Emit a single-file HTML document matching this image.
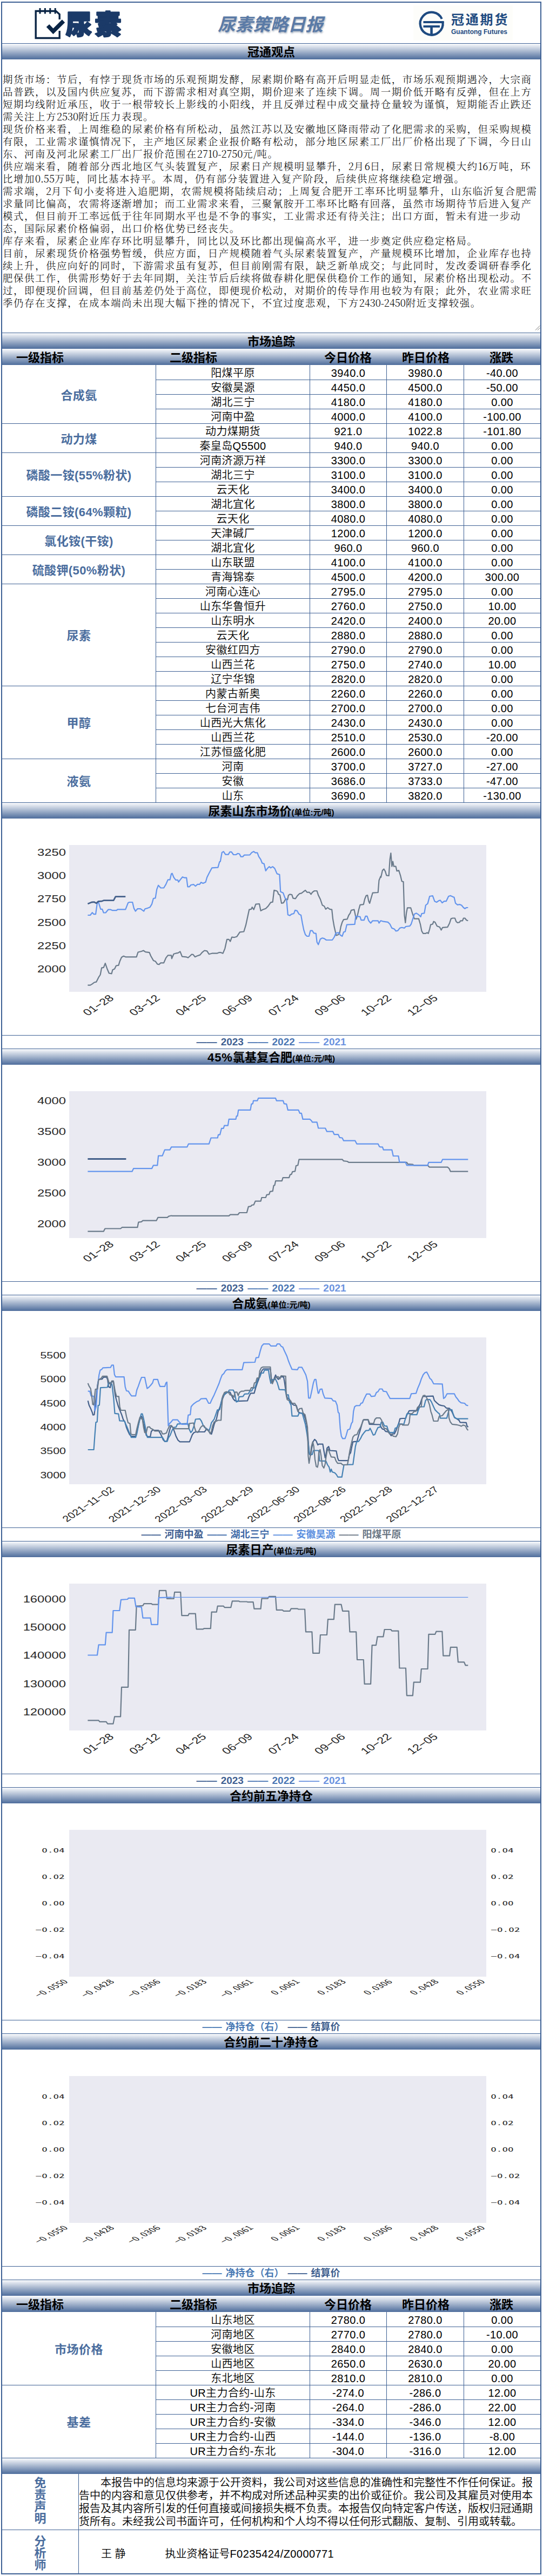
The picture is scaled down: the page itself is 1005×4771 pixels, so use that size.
<!DOCTYPE html>
<html lang="zh-CN"><head><meta charset="utf-8"><title>尿素策略日报</title>
<style>
html,body{margin:0;padding:0;background:#fff;}
body{width:1005px;height:4771px;position:relative;overflow:hidden;font-family:"Liberation Sans","Noto Sans CJK SC",sans-serif;color:#000;}
.abs{position:absolute;}
#frame{position:absolute;left:2px;top:3px;width:996px;height:4761px;border:2px solid #3d6094;}
.bar{position:absolute;left:4px;width:996px;height:30px;background:linear-gradient(#fafbfd,#4e6d9c);text-align:center;font-weight:bold;font-size:22px;line-height:31px;white-space:nowrap;}
.bar small{font-size:15px;}
.hl{position:absolute;height:1px;background:#3d6094;}
.vl{position:absolute;width:1px;background:#3d6094;}
.hd{position:absolute;font-weight:bold;font-size:22px;line-height:34px;white-space:nowrap;text-align:center;}
.c{position:absolute;height:27px;line-height:30px;font-size:20px;letter-spacing:0.4px;font-weight:350;text-align:center;white-space:nowrap;}
.l1{position:absolute;left:4px;width:284px;text-align:center;font-weight:bold;font-size:22px;letter-spacing:0.4px;color:#4a6d9e;white-space:nowrap;}
.leg{position:absolute;left:4px;width:996px;height:25px;line-height:24px;text-align:center;font-weight:bold;font-size:18px;white-space:nowrap;word-spacing:2px;}
#ta{position:absolute;left:4px;top:111px;width:996px;height:504px;font-family:"Noto Serif CJK SC","Liberation Serif",serif;font-weight:300;font-size:18.4px;letter-spacing:1.6px;line-height:23px;white-space:nowrap;overflow:hidden;}
#ta div{position:absolute;left:1px;height:23px;}
#ta i{font-style:normal;letter-spacing:-0.1px;}
svg{position:absolute;overflow:visible;}
svg text{font-family:"Liberation Sans",sans-serif;fill:#262626;}
</style></head>
<body>
<div id="frame"></div>
<svg style="left:60px;top:10px" width="70" height="70" viewBox="60 10 70 70">
<g fill="none" stroke="#0b2545" stroke-linecap="butt" stroke-linejoin="miter">
<path d="M110.2 36V26.5L103.5 20.5H66.2V70.5H110.2V57" stroke-width="3.4"/>
<path d="M74 15V25.5M83.4 15V25.5M92.8 15V25.5M102.2 15V25.5" stroke-width="3"/>
<path d="M88.5 47.5L98.5 58L117.5 39" stroke-width="7.5"/>
</g>
</svg>
<svg style="left:112px;top:8px" width="130" height="72" viewBox="112 8 130 72">
<g style="font-family:'Noto Sans CJK SC',sans-serif;font-weight:900" font-size="48.4" stroke="#1b3a68" stroke-width="2.8" stroke-linejoin="round">
<text x="121.8" y="62.5" style="fill:#1b3a68;font-family:'Noto Sans CJK SC',sans-serif;font-weight:900">尿</text><text x="175.8" y="62.5" style="fill:#1b3a68;font-family:'Noto Sans CJK SC',sans-serif;font-weight:900">素</text>
</g>
</svg>
<div class="abs" style="left:400.5px;top:22.5px;width:200px;height:46px;line-height:46px;font-family:'Liberation Sans','Noto Sans CJK SC',sans-serif;font-weight:bold;font-style:italic;font-size:32.5px;color:#5a7aa6;text-shadow:1px 2px 3px rgba(60,80,110,.45);white-space:nowrap;text-align:center;">尿素策略日报</div>
<div class="abs" style="left:765px;top:10px;width:184px;height:65px;background:#fdfdfa;"></div>
<svg style="left:770px;top:15px" width="60" height="60" viewBox="770 15 60 60">
<g fill="none" stroke="#1e4a80">
<path d="M817.8 35A21 21 0 1 0 819.5 41" stroke-width="4.2"/>
<path d="M783.5 41H821.7M783.5 49H814" stroke-width="4.2"/>
<path d="M798.6 49V64.5" stroke-width="4.6"/>
</g>
</svg>
<div class="abs" style="left:835px;top:19px;height:32px;line-height:32px;font-family:'Noto Sans CJK SC',sans-serif;font-weight:bold;font-size:24px;letter-spacing:2.8px;color:#1e4a80;white-space:nowrap;">冠通期货</div>
<div class="abs" style="left:835px;top:50.5px;height:16px;line-height:16px;font-family:'Liberation Sans',sans-serif;font-weight:bold;font-size:12px;color:#1e4a80;white-space:nowrap;transform-origin:0 0;">Guantong Futures</div>

<div class="bar" style="top:81px;height:29px">冠通观点</div>
<div class="hl" style="top:80px;left:4px;width:996px"></div>
<div id="ta">
<div style="top:24px">期货市场：节后，有悖于现货市场的乐观预期发酵，尿素期价略有高开后明显走低，市场乐观预期遇冷，大宗商</div>
<div style="top:47px">品普跌，以及国内供应复苏，而下游需求相对真空期，期价迎来了连续下调。周一期价低开略有反弹，但在上方</div>
<div style="top:70px">短期均线附近承压，收于一根带较长上影线的小阳线，并且反弹过程中成交量持仓量较为谨慎，短期能否止跌还</div>
<div style="top:93px">需关注上方<i>2530</i>附近压力表现。</div>
<div style="top:116px">现货价格来看，上周维稳的尿素价格有所松动，虽然江苏以及安徽地区降雨带动了化肥需求的采购，但采购规模</div>
<div style="top:139px">有限，工业需求谨慎情况下，主产地区尿素企业报价略有松动，部分地区尿素工厂出厂价格出现了下调，今日山</div>
<div style="top:162px">东、河南及河北尿素工厂出厂报价范围在<i>2710-2750</i>元<i>/</i>吨。</div>
<div style="top:185px">供应端来看，随着部分西北地区气头装置复产，尿素日产规模明显攀升，<i>2</i>月<i>6</i>日，尿素日常规模大约<i>16</i>万吨，环</div>
<div style="top:208px">比增加<i>0.55</i>万吨，同比基本持平。本周，仍有部分装置进入复产阶段，后续供应将继续稳定增强。</div>
<div style="top:231px">需求端，<i>2</i>月下旬小麦将进入追肥期，农需规模将陆续启动；上周复合肥开工率环比明显攀升，山东临沂复合肥需</div>
<div style="top:254px">求量同比偏高，农需将逐渐增加；而工业需求来看，三聚氰胺开工率环比略有回落，虽然市场期待节后进入复产</div>
<div style="top:277px">模式，但目前开工率远低于往年同期水平也是不争的事实，工业需求还有待关注；出口方面，暂未有进一步动</div>
<div style="top:300px">态，国际尿素价格偏弱，出口价格优势已经丧失。</div>
<div style="top:323px">库存来看，尿素企业库存环比明显攀升，同比以及环比都出现偏高水平，进一步奠定供应稳定格局。</div>
<div style="top:346px">目前，尿素现货价格强势暂缓，供应方面，日产规模随着气头尿素装置复产，产量规模环比增加，企业库存也持</div>
<div style="top:369px">续上升，供应向好的同时，下游需求虽有复苏，但目前刚需有限，缺乏新单成交；与此同时，发改委调研春季化</div>
<div style="top:392px">肥保供工作，供需形势好于去年同期，关注节后后续将做春耕化肥保供稳价工作的通知，尿素价格出现松动。不</div>
<div style="top:415px">过，即便现价回调，但目前基差仍处于高位，即便现价松动，对期价的传导作用也较为有限；此外，农业需求旺</div>
<div style="top:438px">季仍存在支撑，在成本端尚未出现大幅下挫的情况下，不宜过度悲观，下方<i>2430-2450</i>附近支撑较强。</div>
</div>
<svg style="left:990px;top:602px" width="10" height="10"><path d="M1 9.5L9.5 1M5 9.5L9.5 5" stroke="#777" stroke-width="1" fill="none"/></svg>
<div class="bar" style="top:617px;height:29px">市场追踪</div>
<div class="hl" style="top:616px;left:4px;width:996px"></div>
<div class="bar" style="top:646px"></div>
<div class="hd" style="top:646px;left:-26px;width:200px">一级指标</div>
<div class="hd" style="top:646px;left:258px;width:200px">二级指标</div>
<div class="hd" style="top:646px;left:544px;width:200px">今日价格</div>
<div class="hd" style="top:646px;left:688px;width:200px">昨日价格</div>
<div class="hd" style="top:646px;left:828px;width:200px">涨跌</div>
<div class="l1" style="top:676px;height:108px;line-height:113px">合成氨</div>
<div class="c" style="top:676px;left:289px;width:284px">阳煤平原</div>
<div class="c" style="top:676px;left:574px;width:141px">3940.0</div>
<div class="c" style="top:676px;left:716px;width:142px">3980.0</div>
<div class="c" style="top:676px;left:859px;width:141px">-40.00</div>
<div class="hl" style="top:703px;left:289px;width:711px"></div>
<div class="c" style="top:703px;left:289px;width:284px">安徽昊源</div>
<div class="c" style="top:703px;left:574px;width:141px">4450.0</div>
<div class="c" style="top:703px;left:716px;width:142px">4500.0</div>
<div class="c" style="top:703px;left:859px;width:141px">-50.00</div>
<div class="hl" style="top:730px;left:289px;width:711px"></div>
<div class="c" style="top:730px;left:289px;width:284px">湖北三宁</div>
<div class="c" style="top:730px;left:574px;width:141px">4180.0</div>
<div class="c" style="top:730px;left:716px;width:142px">4180.0</div>
<div class="c" style="top:730px;left:859px;width:141px">0.00</div>
<div class="hl" style="top:757px;left:289px;width:711px"></div>
<div class="c" style="top:757px;left:289px;width:284px">河南中盈</div>
<div class="c" style="top:757px;left:574px;width:141px">4000.0</div>
<div class="c" style="top:757px;left:716px;width:142px">4100.0</div>
<div class="c" style="top:757px;left:859px;width:141px">-100.00</div>
<div class="hl" style="top:784px;left:4px;width:996px"></div>
<div class="l1" style="top:784px;height:54px;line-height:59px">动力煤</div>
<div class="c" style="top:784px;left:289px;width:284px">动力煤期货</div>
<div class="c" style="top:784px;left:574px;width:141px">921.0</div>
<div class="c" style="top:784px;left:716px;width:142px">1022.8</div>
<div class="c" style="top:784px;left:859px;width:141px">-101.80</div>
<div class="hl" style="top:811px;left:289px;width:711px"></div>
<div class="c" style="top:811px;left:289px;width:284px">秦皇岛Q5500</div>
<div class="c" style="top:811px;left:574px;width:141px">940.0</div>
<div class="c" style="top:811px;left:716px;width:142px">940.0</div>
<div class="c" style="top:811px;left:859px;width:141px">0.00</div>
<div class="hl" style="top:838px;left:4px;width:996px"></div>
<div class="l1" style="top:838px;height:81px;line-height:86px">磷酸一铵(55%粉状)</div>
<div class="c" style="top:838px;left:289px;width:284px">河南济源万祥</div>
<div class="c" style="top:838px;left:574px;width:141px">3300.0</div>
<div class="c" style="top:838px;left:716px;width:142px">3300.0</div>
<div class="c" style="top:838px;left:859px;width:141px">0.00</div>
<div class="hl" style="top:865px;left:289px;width:711px"></div>
<div class="c" style="top:865px;left:289px;width:284px">湖北三宁</div>
<div class="c" style="top:865px;left:574px;width:141px">3100.0</div>
<div class="c" style="top:865px;left:716px;width:142px">3100.0</div>
<div class="c" style="top:865px;left:859px;width:141px">0.00</div>
<div class="hl" style="top:892px;left:289px;width:711px"></div>
<div class="c" style="top:892px;left:289px;width:284px">云天化</div>
<div class="c" style="top:892px;left:574px;width:141px">3400.0</div>
<div class="c" style="top:892px;left:716px;width:142px">3400.0</div>
<div class="c" style="top:892px;left:859px;width:141px">0.00</div>
<div class="hl" style="top:919px;left:4px;width:996px"></div>
<div class="l1" style="top:919px;height:54px;line-height:59px">磷酸二铵(64%颗粒)</div>
<div class="c" style="top:919px;left:289px;width:284px">湖北宜化</div>
<div class="c" style="top:919px;left:574px;width:141px">3800.0</div>
<div class="c" style="top:919px;left:716px;width:142px">3800.0</div>
<div class="c" style="top:919px;left:859px;width:141px">0.00</div>
<div class="hl" style="top:946px;left:289px;width:711px"></div>
<div class="c" style="top:946px;left:289px;width:284px">云天化</div>
<div class="c" style="top:946px;left:574px;width:141px">4080.0</div>
<div class="c" style="top:946px;left:716px;width:142px">4080.0</div>
<div class="c" style="top:946px;left:859px;width:141px">0.00</div>
<div class="hl" style="top:973px;left:4px;width:996px"></div>
<div class="l1" style="top:973px;height:54px;line-height:59px">氯化铵(干铵)</div>
<div class="c" style="top:973px;left:289px;width:284px">天津碱厂</div>
<div class="c" style="top:973px;left:574px;width:141px">1200.0</div>
<div class="c" style="top:973px;left:716px;width:142px">1200.0</div>
<div class="c" style="top:973px;left:859px;width:141px">0.00</div>
<div class="hl" style="top:1000px;left:289px;width:711px"></div>
<div class="c" style="top:1000px;left:289px;width:284px">湖北宜化</div>
<div class="c" style="top:1000px;left:574px;width:141px">960.0</div>
<div class="c" style="top:1000px;left:716px;width:142px">960.0</div>
<div class="c" style="top:1000px;left:859px;width:141px">0.00</div>
<div class="hl" style="top:1027px;left:4px;width:996px"></div>
<div class="l1" style="top:1027px;height:54px;line-height:59px">硫酸钾(50%粉状)</div>
<div class="c" style="top:1027px;left:289px;width:284px">山东联盟</div>
<div class="c" style="top:1027px;left:574px;width:141px">4100.0</div>
<div class="c" style="top:1027px;left:716px;width:142px">4100.0</div>
<div class="c" style="top:1027px;left:859px;width:141px">0.00</div>
<div class="hl" style="top:1054px;left:289px;width:711px"></div>
<div class="c" style="top:1054px;left:289px;width:284px">青海锦泰</div>
<div class="c" style="top:1054px;left:574px;width:141px">4500.0</div>
<div class="c" style="top:1054px;left:716px;width:142px">4200.0</div>
<div class="c" style="top:1054px;left:859px;width:141px">300.00</div>
<div class="hl" style="top:1081px;left:4px;width:996px"></div>
<div class="l1" style="top:1081px;height:189px;line-height:194px">尿素</div>
<div class="c" style="top:1081px;left:289px;width:284px">河南心连心</div>
<div class="c" style="top:1081px;left:574px;width:141px">2795.0</div>
<div class="c" style="top:1081px;left:716px;width:142px">2795.0</div>
<div class="c" style="top:1081px;left:859px;width:141px">0.00</div>
<div class="hl" style="top:1108px;left:289px;width:711px"></div>
<div class="c" style="top:1108px;left:289px;width:284px">山东华鲁恒升</div>
<div class="c" style="top:1108px;left:574px;width:141px">2760.0</div>
<div class="c" style="top:1108px;left:716px;width:142px">2750.0</div>
<div class="c" style="top:1108px;left:859px;width:141px">10.00</div>
<div class="hl" style="top:1135px;left:289px;width:711px"></div>
<div class="c" style="top:1135px;left:289px;width:284px">山东明水</div>
<div class="c" style="top:1135px;left:574px;width:141px">2420.0</div>
<div class="c" style="top:1135px;left:716px;width:142px">2400.0</div>
<div class="c" style="top:1135px;left:859px;width:141px">20.00</div>
<div class="hl" style="top:1162px;left:289px;width:711px"></div>
<div class="c" style="top:1162px;left:289px;width:284px">云天化</div>
<div class="c" style="top:1162px;left:574px;width:141px">2880.0</div>
<div class="c" style="top:1162px;left:716px;width:142px">2880.0</div>
<div class="c" style="top:1162px;left:859px;width:141px">0.00</div>
<div class="hl" style="top:1189px;left:289px;width:711px"></div>
<div class="c" style="top:1189px;left:289px;width:284px">安徽红四方</div>
<div class="c" style="top:1189px;left:574px;width:141px">2790.0</div>
<div class="c" style="top:1189px;left:716px;width:142px">2790.0</div>
<div class="c" style="top:1189px;left:859px;width:141px">0.00</div>
<div class="hl" style="top:1216px;left:289px;width:711px"></div>
<div class="c" style="top:1216px;left:289px;width:284px">山西兰花</div>
<div class="c" style="top:1216px;left:574px;width:141px">2750.0</div>
<div class="c" style="top:1216px;left:716px;width:142px">2740.0</div>
<div class="c" style="top:1216px;left:859px;width:141px">10.00</div>
<div class="hl" style="top:1243px;left:289px;width:711px"></div>
<div class="c" style="top:1243px;left:289px;width:284px">辽宁华锦</div>
<div class="c" style="top:1243px;left:574px;width:141px">2820.0</div>
<div class="c" style="top:1243px;left:716px;width:142px">2820.0</div>
<div class="c" style="top:1243px;left:859px;width:141px">0.00</div>
<div class="hl" style="top:1270px;left:4px;width:996px"></div>
<div class="l1" style="top:1270px;height:135px;line-height:140px">甲醇</div>
<div class="c" style="top:1270px;left:289px;width:284px">内蒙古新奥</div>
<div class="c" style="top:1270px;left:574px;width:141px">2260.0</div>
<div class="c" style="top:1270px;left:716px;width:142px">2260.0</div>
<div class="c" style="top:1270px;left:859px;width:141px">0.00</div>
<div class="hl" style="top:1297px;left:289px;width:711px"></div>
<div class="c" style="top:1297px;left:289px;width:284px">七台河吉伟</div>
<div class="c" style="top:1297px;left:574px;width:141px">2700.0</div>
<div class="c" style="top:1297px;left:716px;width:142px">2700.0</div>
<div class="c" style="top:1297px;left:859px;width:141px">0.00</div>
<div class="hl" style="top:1324px;left:289px;width:711px"></div>
<div class="c" style="top:1324px;left:289px;width:284px">山西光大焦化</div>
<div class="c" style="top:1324px;left:574px;width:141px">2430.0</div>
<div class="c" style="top:1324px;left:716px;width:142px">2430.0</div>
<div class="c" style="top:1324px;left:859px;width:141px">0.00</div>
<div class="hl" style="top:1351px;left:289px;width:711px"></div>
<div class="c" style="top:1351px;left:289px;width:284px">山西兰花</div>
<div class="c" style="top:1351px;left:574px;width:141px">2510.0</div>
<div class="c" style="top:1351px;left:716px;width:142px">2530.0</div>
<div class="c" style="top:1351px;left:859px;width:141px">-20.00</div>
<div class="hl" style="top:1378px;left:289px;width:711px"></div>
<div class="c" style="top:1378px;left:289px;width:284px">江苏恒盛化肥</div>
<div class="c" style="top:1378px;left:574px;width:141px">2600.0</div>
<div class="c" style="top:1378px;left:716px;width:142px">2600.0</div>
<div class="c" style="top:1378px;left:859px;width:141px">0.00</div>
<div class="hl" style="top:1405px;left:4px;width:996px"></div>
<div class="l1" style="top:1405px;height:81px;line-height:86px">液氨</div>
<div class="c" style="top:1405px;left:289px;width:284px">河南</div>
<div class="c" style="top:1405px;left:574px;width:141px">3700.0</div>
<div class="c" style="top:1405px;left:716px;width:142px">3727.0</div>
<div class="c" style="top:1405px;left:859px;width:141px">-27.00</div>
<div class="hl" style="top:1432px;left:289px;width:711px"></div>
<div class="c" style="top:1432px;left:289px;width:284px">安徽</div>
<div class="c" style="top:1432px;left:574px;width:141px">3686.0</div>
<div class="c" style="top:1432px;left:716px;width:142px">3733.0</div>
<div class="c" style="top:1432px;left:859px;width:141px">-47.00</div>
<div class="hl" style="top:1459px;left:289px;width:711px"></div>
<div class="c" style="top:1459px;left:289px;width:284px">山东</div>
<div class="c" style="top:1459px;left:574px;width:141px">3690.0</div>
<div class="c" style="top:1459px;left:716px;width:142px">3820.0</div>
<div class="c" style="top:1459px;left:859px;width:141px">-130.00</div>
<div class="hl" style="top:1486px;left:4px;width:996px"></div>
<div class="vl" style="left:288px;top:676px;height:810px"></div>
<div class="vl" style="left:573px;top:676px;height:810px"></div>
<div class="vl" style="left:715px;top:676px;height:810px"></div>
<div class="vl" style="left:858px;top:676px;height:810px"></div>
<div class="bar" style="top:1487px;height:29px">尿素山东市场价<small>(单位:元/吨)</small></div>
<div class="hl" style="top:1486px;left:4px;width:996px"></div>
<svg style="left:4px;top:1517px" width="996" height="400" viewBox="4 1517 996 400">
<rect x="128" y="1565" width="772" height="272" fill="#eaeaf2"/>
<path d="M162.4 1824.6L167.1 1824.6L170.8 1822.4L174.5 1819.5L178.2 1818.7L182.6 1809.9L185.6 1805.5L188.1 1792.6L191.8 1791.8L194.8 1784.1L198.1 1793.7L201.8 1802.5L206.6 1803.3L208.4 1796.3L212.1 1794.4L215.0 1788.5L219.4 1787.8L222.0 1779.7L225.0 1773.0L228.7 1770.8L232.3 1772.3L252.6 1772.3L255.5 1763.5L261.8 1762.0L265.5 1760.5L269.2 1763.1L276.5 1764.2L279.1 1770.5L283.9 1778.9L287.6 1780.4L291.3 1785.6L294.2 1786.3L297.5 1783.4L303.1 1783.4L307.1 1774.2L310.8 1769.4L317.1 1769.4L317.9 1775.3L321.6 1766.8L325.3 1765.7L329.7 1764.9L333.4 1762.4L337.1 1771.6L344.5 1772.3L348.1 1773.8L351.8 1770.5L354.8 1767.5L357.4 1767.9L361.0 1772.3L364.7 1770.5L370.2 1768.6L373.9 1764.2L378.4 1760.5L383.1 1761.3L386.8 1767.2L392.3 1765.7L401.6 1765.7L405.2 1764.2L408.9 1764.2L412.6 1765.7L416.3 1756.8L420.0 1739.9L423.7 1739.9L426.2 1743.6L429.2 1735.5L432.9 1736.2L438.4 1734.7L443.9 1726.3L451.3 1725.5L455.0 1713.4L458.6 1696.8L461.2 1684.7L464.9 1683.9L466.7 1680.2L469.7 1684.7L473.4 1674.7L480.0 1674.0L482.6 1686.9L486.3 1684.7L491.8 1682.8L496.2 1678.4L501.0 1671.4L504.7 1670.7L507.3 1648.9L512.1 1650.0L513.7 1651.5L515.5 1656.3L518.1 1657.4L521.0 1672.9L524.7 1672.1L528.4 1665.5L532.1 1666.2L533.9 1658.1L536.5 1656.3L540.2 1657.0L542.4 1663.7L546.8 1664.4L550.5 1658.9L554.2 1655.2L557.9 1654.4L561.6 1651.5L565.2 1648.9L568.2 1652.6L572.6 1652.6L575.6 1656.3L578.1 1652.6L581.8 1650.0L586.6 1650.0L589.2 1658.1L592.9 1665.5L596.6 1676.5L600.2 1678.4L602.8 1683.9L606.5 1681.0L610.2 1683.9L614.2 1684.7L616.1 1702.3L618.7 1717.1L622.3 1732.5L626.0 1731.1L628.6 1728.1L630.8 1716.3L633.4 1707.9L636.0 1703.1L642.6 1702.3L645.5 1695.0L648.1 1691.3L650.0 1685.8L655.5 1684.7L657.3 1693.1L659.2 1702.3L661.7 1695.0L664.0 1684.7L666.5 1675.8L672.8 1675.1L675.0 1665.5L677.6 1658.9L680.2 1658.1L682.4 1669.2L684.2 1672.9L686.8 1663.7L689.7 1653.7L699.7 1653.0L701.5 1630.5L704.5 1623.1L705.0 1625.0L707.9 1612.1L710.5 1609.5L713.1 1613.9L715.3 1621.3L719.7 1622.0L721.6 1591.8L723.4 1580.0L725.3 1604.7L727.1 1595.5L728.9 1604.7L732.6 1604.7L734.5 1613.2L738.1 1612.1L741.1 1621.3L743.7 1632.3L746.6 1633.1L748.5 1695.0L750.3 1709.0L752.1 1691.3L754.0 1681.3L760.2 1681.3L763.2 1691.3L766.9 1701.6L775.0 1701.6L777.9 1711.5L780.5 1724.4L783.1 1728.8L787.9 1728.8L790.5 1727.4L792.7 1728.8L795.2 1720.7L797.1 1712.6L800.8 1711.5L802.6 1706.7L805.2 1707.9L808.9 1715.2L813.7 1717.1L816.6 1722.6L819.2 1717.8L828.4 1717.1L832.1 1709.7L834.7 1701.6L837.6 1700.5L842.0 1700.5L844.2 1706.7L846.8 1709.0L850.5 1708.2L852.3 1705.3L856.0 1705.3L857.9 1700.5L860.4 1700.5L863.4 1704.2L866.3 1705.3" fill="none" stroke="#6b7b8b" stroke-width="2.2" stroke-linejoin="round" stroke-linecap="butt"/>
<path d="M162.4 1695.0L167.1 1695.0L170.8 1690.2L173.4 1693.1L177.1 1693.1L180.0 1672.1L182.6 1672.1L186.3 1683.9L189.2 1683.9L191.8 1690.5L195.5 1690.5L200.3 1684.7L204.7 1684.7L207.7 1686.1L215.8 1686.1L217.6 1684.3L232.3 1684.3L237.1 1672.1L239.7 1671.0L245.2 1671.0L247.8 1682.1L250.8 1687.6L254.4 1683.2L260.0 1683.2L266.2 1687.6L268.4 1683.2L272.9 1682.1L277.6 1680.2L281.0 1674.7L283.9 1664.0L287.6 1663.3L290.2 1647.1L293.1 1639.7L297.5 1644.5L303.1 1644.5L307.1 1637.9L310.8 1629.4L314.5 1629.4L317.1 1618.4L318.7 1617.6L321.6 1625.0L325.3 1629.8L329.0 1629.8L330.5 1633.5L334.2 1628.7L337.8 1624.2L341.5 1625.7L345.2 1625.7L347.4 1642.3L350.7 1642.3L353.3 1639.0L358.5 1638.2L361.8 1641.2L365.5 1637.9L369.5 1637.9L372.1 1634.2L375.8 1636.0L380.6 1633.8L383.1 1625.0L386.8 1617.6L392.3 1607.3L403.4 1606.6L406.3 1596.3L407.8 1595.5L410.8 1578.9L413.7 1577.1L417.4 1582.6L422.6 1582.6L425.5 1577.8L428.4 1577.8L432.1 1583.0L436.5 1583.0L440.2 1580.8L443.2 1581.5L445.8 1586.7L449.4 1586.7L452.0 1583.7L462.3 1583.4L466.0 1578.9L469.7 1577.1L472.6 1579.3L476.3 1579.3L478.9 1586.3L482.6 1591.8L485.2 1598.5L488.8 1599.9L491.8 1612.8L495.5 1607.7L498.4 1605.1L501.0 1607.3L504.7 1605.1L508.4 1608.4L512.1 1616.9L512.9 1618.4L517.4 1619.8L519.2 1651.5L524.0 1653.7L527.7 1663.7L530.3 1665.5L532.8 1694.2L536.5 1695.7L539.5 1693.1L543.9 1692.0L546.1 1685.8L549.8 1686.9L553.5 1693.1L557.1 1695.0L559.7 1709.7L562.3 1722.6L565.2 1731.1L568.2 1734.0L571.9 1734.0L574.5 1723.7L578.1 1723.7L580.7 1728.1L584.8 1728.8L586.6 1744.7L589.2 1749.5L592.9 1739.2L596.6 1737.3L600.2 1738.4L603.9 1741.0L615.0 1741.0L618.7 1735.5L621.6 1728.1L627.1 1727.4L629.7 1731.8L633.4 1734.0L636.0 1726.3L638.9 1725.5L641.9 1712.6L656.6 1711.9L658.4 1696.8L666.5 1697.9L668.4 1704.2L673.9 1704.2L676.5 1696.8L679.4 1696.8L682.4 1705.3L686.1 1709.7L689.7 1705.3L699.7 1705.3L701.5 1709.7L704.5 1705.3L705.0 1705.3L709.4 1706.7L717.9 1707.9L721.6 1711.5L725.3 1718.9L730.0 1720.7L732.6 1724.4L736.3 1723.7L740.0 1718.9L743.7 1717.8L748.5 1718.9L751.0 1716.0L758.4 1715.2L761.0 1711.5L763.9 1702.3L766.9 1693.1L770.6 1691.3L775.0 1694.2L778.7 1697.9L780.5 1692.0L785.3 1691.3L787.9 1676.5L791.6 1673.6L795.2 1660.0L800.8 1659.2L804.4 1669.2L808.1 1671.0L811.8 1668.4L814.8 1667.3L818.4 1672.1L822.1 1669.2L825.8 1669.2L830.2 1660.0L833.9 1658.9L838.3 1661.1L840.5 1661.8L843.1 1672.9L846.8 1675.8L850.5 1675.1L854.2 1676.5L857.9 1681.0L860.4 1682.8L863.4 1681.0L866.3 1681.0" fill="none" stroke="#6495ed" stroke-width="2.2" stroke-linejoin="round" stroke-linecap="butt"/>
<path d="M162.4 1674.0L166.0 1672.5L169.7 1671.0L174.5 1670.7L178.2 1672.9L181.9 1669.5L188.1 1669.2L191.8 1667.7L210.2 1667.7L213.9 1660.7L232.3 1660.7" fill="none" stroke="#44608a" stroke-width="2.8" stroke-linejoin="round" stroke-linecap="butt"/>
<text transform="translate(122.0 1584.7) scale(1.337 1)" text-anchor="end" font-size="17.8">3250</text>
<text transform="translate(122.0 1628.0) scale(1.337 1)" text-anchor="end" font-size="17.8">3000</text>
<text transform="translate(122.0 1671.3) scale(1.337 1)" text-anchor="end" font-size="17.8">2750</text>
<text transform="translate(122.0 1714.6) scale(1.337 1)" text-anchor="end" font-size="17.8">2500</text>
<text transform="translate(122.0 1757.9) scale(1.337 1)" text-anchor="end" font-size="17.8">2250</text>
<text transform="translate(122.0 1801.2) scale(1.337 1)" text-anchor="end" font-size="17.8">2000</text>
<text transform="translate(181.5 1861.5) scale(1.39 1) rotate(-42)" text-anchor="middle" dominant-baseline="central" font-size="17.0">01−28</text>
<text transform="translate(267.2 1861.5) scale(1.39 1) rotate(-42)" text-anchor="middle" dominant-baseline="central" font-size="17.0">03−12</text>
<text transform="translate(352.9 1861.5) scale(1.39 1) rotate(-42)" text-anchor="middle" dominant-baseline="central" font-size="17.0">04−25</text>
<text transform="translate(438.6 1861.5) scale(1.39 1) rotate(-42)" text-anchor="middle" dominant-baseline="central" font-size="17.0">06−09</text>
<text transform="translate(524.3 1861.5) scale(1.39 1) rotate(-42)" text-anchor="middle" dominant-baseline="central" font-size="17.0">07−24</text>
<text transform="translate(610.0 1861.5) scale(1.39 1) rotate(-42)" text-anchor="middle" dominant-baseline="central" font-size="17.0">09−06</text>
<text transform="translate(695.7 1861.5) scale(1.39 1) rotate(-42)" text-anchor="middle" dominant-baseline="central" font-size="17.0">10−22</text>
<text transform="translate(781.4 1861.5) scale(1.39 1) rotate(-42)" text-anchor="middle" dominant-baseline="central" font-size="17.0">12−05</text>
</svg>
<div class="hl" style="top:1917px;left:4px;width:996px"></div>
<div class="leg" style="top:1918px;font-size:19px"><span style="color:#3f5f92">—— 2023</span> <span style="color:#4a76b4">—— 2022</span> <span style="color:#6b93e0">—— 2021</span></div>
<div class="bar" style="top:1943px;height:29px"><span style="letter-spacing:1px">45%</span>氯基复合肥<small>(单位:元/吨)</small></div>
<div class="hl" style="top:1942px;left:4px;width:996px"></div>
<svg style="left:4px;top:1973px" width="996" height="400" viewBox="4 1973 996 400">
<rect x="128" y="2021" width="772" height="272" fill="#eaeaf2"/>
<path d="M162.4 2280.6L191.8 2280.6L194.4 2275.5L223.1 2275.5L226.1 2273.2L254.4 2273.2L256.3 2263.7L261.8 2262.9L264.4 2260.7L289.4 2260.7L292.4 2254.8L309.7 2254.8L312.3 2252.6L317.1 2251.5L318.7 2251.9L423.7 2251.9L426.2 2249.7L440.2 2249.7L443.2 2246.0L456.8 2246.0L459.8 2234.9L464.2 2234.2L466.0 2232.0L469.7 2231.3L472.6 2224.6L482.6 2224.6L484.4 2218.0L491.8 2218.0L493.6 2212.8L498.1 2212.1L499.9 2206.9L504.7 2206.2L506.5 2195.9L508.4 2195.2L510.2 2187.1L511.8 2187.1L521.8 2187.1L523.6 2181.2L535.0 2181.2L536.9 2175.6L539.5 2174.9L541.3 2170.1L546.1 2169.4L547.9 2159.1L551.3 2158.3L553.5 2147.3L633.4 2147.3L636.0 2150.2L642.6 2151.0L645.5 2152.8L704.5 2152.8L705.0 2152.8L752.9 2152.8L754.7 2155.8L763.9 2156.5L765.8 2158.3L791.6 2158.3L794.5 2161.6L828.4 2161.6L831.3 2164.2L833.9 2169.7L866.3 2169.7" fill="none" stroke="#6b7b8b" stroke-width="2.2" stroke-linejoin="round" stroke-linecap="butt"/>
<path d="M162.4 2169.7L244.5 2169.7L247.1 2164.2L281.0 2164.2L283.9 2158.3L291.3 2158.3L293.1 2140.7L300.5 2140.7L304.9 2129.6L314.5 2129.6L317.1 2124.4L346.3 2124.4L348.9 2118.6L386.8 2118.6L390.5 2107.5L402.7 2107.5L404.1 2101.6L407.1 2101.6L410.0 2089.8L413.7 2089.8L415.2 2084.7L421.8 2084.7L423.7 2072.9L436.5 2072.9L437.7 2067.0L439.5 2067.0L441.3 2055.9L463.4 2055.9L465.3 2044.9L467.9 2044.1L469.0 2038.6L476.3 2038.6L478.2 2033.8L509.5 2033.8L510.0 2033.8L511.8 2038.6L524.0 2038.6L525.8 2044.1L530.3 2044.9L532.8 2055.9L552.4 2055.9L554.9 2061.8L557.9 2061.8L560.5 2072.9L573.4 2072.9L576.3 2075.5L578.1 2078.4L586.6 2078.4L589.2 2089.5L602.1 2089.5L605.0 2095.7L616.1 2095.7L618.7 2101.2L626.0 2101.2L628.6 2106.8L633.4 2107.5L636.0 2112.7L657.3 2112.7L660.3 2118.6L699.7 2118.6L702.3 2123.7L704.5 2124.4L705.0 2124.4L707.9 2124.4L709.8 2129.6L725.3 2129.6L727.8 2141.0L737.4 2141.0L739.3 2152.4L750.3 2152.4L752.9 2158.3L791.6 2158.3L793.4 2152.8L816.6 2152.8L819.2 2147.3L866.3 2147.3" fill="none" stroke="#6495ed" stroke-width="2.2" stroke-linejoin="round" stroke-linecap="butt"/>
<path d="M162.4 2146.5L233.4 2146.5" fill="none" stroke="#44608a" stroke-width="2.8" stroke-linejoin="round" stroke-linecap="butt"/>
<text transform="translate(122.0 2045.3) scale(1.337 1)" text-anchor="end" font-size="17.8">4000</text>
<text transform="translate(122.0 2102.3) scale(1.337 1)" text-anchor="end" font-size="17.8">3500</text>
<text transform="translate(122.0 2159.1) scale(1.337 1)" text-anchor="end" font-size="17.8">3000</text>
<text transform="translate(122.0 2215.9) scale(1.337 1)" text-anchor="end" font-size="17.8">2500</text>
<text transform="translate(122.0 2272.7) scale(1.337 1)" text-anchor="end" font-size="17.8">2000</text>
<text transform="translate(181.5 2317.5) scale(1.39 1) rotate(-42)" text-anchor="middle" dominant-baseline="central" font-size="17.0">01−28</text>
<text transform="translate(267.2 2317.5) scale(1.39 1) rotate(-42)" text-anchor="middle" dominant-baseline="central" font-size="17.0">03−12</text>
<text transform="translate(352.9 2317.5) scale(1.39 1) rotate(-42)" text-anchor="middle" dominant-baseline="central" font-size="17.0">04−25</text>
<text transform="translate(438.6 2317.5) scale(1.39 1) rotate(-42)" text-anchor="middle" dominant-baseline="central" font-size="17.0">06−09</text>
<text transform="translate(524.3 2317.5) scale(1.39 1) rotate(-42)" text-anchor="middle" dominant-baseline="central" font-size="17.0">07−24</text>
<text transform="translate(610.0 2317.5) scale(1.39 1) rotate(-42)" text-anchor="middle" dominant-baseline="central" font-size="17.0">09−06</text>
<text transform="translate(695.7 2317.5) scale(1.39 1) rotate(-42)" text-anchor="middle" dominant-baseline="central" font-size="17.0">10−22</text>
<text transform="translate(781.4 2317.5) scale(1.39 1) rotate(-42)" text-anchor="middle" dominant-baseline="central" font-size="17.0">12−05</text>
</svg>
<div class="hl" style="top:2373px;left:4px;width:996px"></div>
<div class="leg" style="top:2374px;font-size:19px"><span style="color:#3f5f92">—— 2023</span> <span style="color:#4a76b4">—— 2022</span> <span style="color:#6b93e0">—— 2021</span></div>
<div class="bar" style="top:2399px;height:29px">合成氨<small>(单位:元/吨)</small></div>
<div class="hl" style="top:2398px;left:4px;width:996px"></div>
<svg style="left:4px;top:2429px" width="996" height="400" viewBox="4 2429 996 400">
<rect x="128" y="2477" width="772" height="272" fill="#eaeaf2"/>
<path d="M162.7 2594.3L164.8 2602.5L167.7 2608.4L170.7 2615.8L172.1 2620.8L174.5 2620.2L176.6 2599.6L178.6 2581.9L180.4 2565.7L182.5 2554.8L189.2 2554.2L191.3 2551.0L197.2 2550.4L199.2 2555.4L201.0 2568.6L204.0 2570.1L206.0 2559.8L209.9 2558.9L211.3 2570.1L213.4 2584.9L215.7 2593.7L218.7 2604.0L221.6 2611.4L225.2 2620.2L228.1 2629.1L231.1 2633.5L234.0 2643.8L237.0 2651.1L239.9 2657.0L242.9 2660.0L251.1 2660.0L253.2 2652.6L256.1 2639.4L259.1 2626.1L262.0 2623.2L263.5 2627.6L265.8 2637.9L268.8 2649.7L270.8 2658.5L273.8 2660.9L278.2 2660.9L280.0 2651.1L282.9 2648.2L285.3 2649.1L293.3 2649.1L296.2 2654.1L300.0 2661.5L302.1 2666.8L305.0 2669.7L308.9 2669.1L310.9 2661.5L313.0 2652.6L315.4 2643.8L317.7 2640.8L319.8 2643.8L322.7 2651.1L325.7 2660.0L329.5 2667.4L333.0 2670.3L350.7 2670.3L353.7 2662.9L356.0 2657.0L359.0 2653.2L362.5 2652.0L365.4 2652.6L368.4 2652.0L378.7 2652.0L381.6 2647.3L384.6 2647.3L387.5 2652.6L391.4 2656.2L393.4 2649.7L396.4 2637.9L400.8 2627.6L403.7 2614.3L407.3 2605.5L409.6 2596.6L412.0 2590.7L414.9 2583.4L418.5 2580.4L421.4 2578.4L425.8 2578.4L428.8 2584.9L431.7 2590.7L434.7 2594.3L435.0 2593.7L438.5 2595.2L458.0 2594.3L460.9 2586.3L463.9 2580.4L470.4 2580.4L473.3 2570.1L476.2 2561.3L478.6 2555.4L481.6 2545.1L484.5 2539.2L487.4 2535.4L500.4 2535.4L502.2 2552.4L504.2 2560.7L507.2 2553.9L510.1 2546.6L512.2 2551.0L515.1 2554.8L519.0 2550.1L524.9 2550.1L526.9 2561.3L529.3 2579.0L531.6 2589.3L535.2 2590.7L537.5 2596.6L540.5 2600.2L544.0 2602.5L548.4 2603.1L550.5 2609.9L552.9 2615.8L557.3 2617.3L561.7 2617.9L564.6 2626.1L567.6 2637.9L569.9 2658.5L572.0 2690.9L575.0 2695.3L577.0 2682.1L579.4 2670.3L582.3 2665.9L585.3 2668.8L588.2 2676.2L590.0 2674.7L597.4 2674.7L599.4 2686.5L601.8 2699.8L603.3 2693.9L605.3 2682.1L608.3 2679.1L610.6 2686.5L622.4 2687.4L624.8 2699.8L626.8 2705.1L644.5 2705.1L646.6 2693.9L648.9 2690.9L651.3 2679.1L653.3 2670.3L660.7 2669.7L663.7 2658.5L666.0 2651.1L669.0 2640.8L671.9 2630.5L674.0 2629.6L681.3 2629.6L683.7 2637.9L703.4 2638.5L705.5 2643.8L707.9 2646.7L710.8 2647.3L713.7 2651.1L718.2 2652.0L721.1 2655.0L724.1 2659.1L726.1 2655.6L730.0 2655.6L732.9 2649.7L735.0 2643.8L737.9 2636.4L740.3 2627.6L744.7 2627.0L745.0 2627.0L750.9 2627.0L753.2 2620.2L757.4 2612.8L772.1 2612.3L774.5 2605.5L777.4 2601.1L779.8 2593.7L782.7 2586.3L801.6 2585.7L803.9 2593.7L808.3 2598.1L812.8 2601.9L817.2 2603.1L822.2 2604.0L826.0 2607.8L831.9 2608.4L836.3 2614.3L840.8 2624.6L845.2 2627.6L849.6 2630.5L851.7 2634.4L862.9 2634.9L864.3 2640.8L866.4 2643.2" fill="none" stroke="#44608a" stroke-width="2.2" stroke-linejoin="round" stroke-linecap="butt"/>
<path d="M162.7 2685.0L173.6 2685.0L175.7 2655.6L177.4 2634.4L179.8 2633.5L181.6 2603.1L183.9 2602.5L186.0 2570.1L198.7 2569.5L201.0 2561.3L206.0 2560.7L207.5 2565.7L210.4 2590.7L212.5 2617.9L219.3 2618.7L221.3 2631.4L230.5 2632.0L232.5 2637.3L235.5 2643.8L238.4 2651.1L241.4 2657.9L242.9 2662.1L251.1 2662.1L253.2 2655.6L256.1 2640.8L259.1 2627.6L261.4 2618.7L263.5 2618.7L265.8 2627.6L268.5 2640.8L270.8 2655.6L272.9 2662.1L279.7 2662.1L280.0 2662.1L300.6 2662.1L303.0 2665.9L305.0 2669.7L309.5 2669.7L311.8 2662.9L314.8 2658.5L317.7 2651.1L321.2 2643.8L325.7 2643.2L328.6 2637.3L347.8 2636.7L350.1 2646.7L353.1 2653.2L356.0 2649.7L359.0 2640.8L361.9 2628.5L369.9 2627.9L372.8 2632.0L375.8 2639.4L378.7 2643.8L381.6 2645.3L384.6 2648.2L386.7 2651.1L389.0 2643.8L391.4 2634.9L396.4 2628.5L399.3 2620.2L402.3 2611.4L406.7 2610.8L409.1 2599.6L411.1 2589.3L414.1 2584.9L417.0 2580.4L421.4 2579.0L424.4 2574.5L431.7 2574.5L433.8 2579.0L435.0 2583.4L437.4 2596.6L440.9 2595.2L442.4 2587.2L449.7 2586.3L452.7 2581.9L460.0 2581.3L462.1 2576.6L465.9 2576.0L468.0 2571.6L471.8 2570.1L474.8 2561.9L477.7 2552.4L480.7 2551.0L483.6 2543.0L487.4 2543.0L489.5 2537.7L496.9 2537.7L499.2 2552.4L501.3 2561.9L504.2 2555.4L507.2 2554.8L510.1 2554.8L513.1 2560.7L516.9 2573.7L527.8 2574.2L529.9 2583.4L533.7 2583.4L535.8 2596.6L538.7 2602.5L540.5 2622.6L551.4 2622.6L553.4 2617.3L559.3 2617.3L562.3 2627.6L565.2 2637.9L568.2 2655.6L570.5 2673.2L572.9 2693.9L577.9 2693.9L580.0 2686.5L588.8 2686.5L590.0 2686.5L591.5 2705.7L603.3 2706.2L606.2 2713.0L609.2 2717.4L611.2 2726.3L613.0 2721.0L615.0 2726.3L619.5 2727.8L622.4 2730.7L625.4 2735.7L632.7 2735.7L634.8 2723.3L636.6 2713.0L653.3 2712.4L655.4 2696.8L657.8 2679.1L660.1 2670.3L663.7 2669.7L667.2 2664.4L670.1 2658.5L674.0 2653.2L676.9 2649.7L682.8 2649.1L684.9 2645.3L687.2 2649.7L690.8 2657.9L693.7 2657.0L696.1 2651.1L699.6 2643.8L703.4 2643.2L705.5 2634.4L708.4 2633.8L711.4 2640.8L716.1 2641.4L718.2 2648.2L721.1 2653.2L729.1 2653.2L731.4 2645.3L735.0 2643.8L737.3 2637.3L744.7 2637.3L745.0 2637.9L747.4 2637.9L750.3 2627.6L753.2 2618.7L758.3 2617.9L761.2 2620.2L771.5 2620.2L773.9 2612.8L776.8 2605.5L784.8 2605.5L787.7 2593.7L789.2 2592.2L795.7 2592.2L798.6 2596.6L802.5 2605.5L805.4 2611.4L809.8 2615.8L813.4 2618.7L815.1 2626.7L826.9 2626.7L829.0 2618.7L831.0 2611.4L836.3 2610.8L838.7 2618.7L841.6 2626.1L845.2 2627.6L866.4 2627.6" fill="none" stroke="#4682b4" stroke-width="2.2" stroke-linejoin="round" stroke-linecap="butt"/>
<path d="M162.7 2576.6L166.2 2576.6L168.6 2585.4L173.6 2586.0L175.7 2612.8L178.0 2605.5L180.4 2570.1L183.3 2546.6L185.4 2537.7L188.3 2536.2L190.4 2533.3L204.6 2532.7L206.9 2528.3L209.9 2528.3L211.9 2546.0L214.0 2550.1L229.6 2550.1L231.7 2568.6L234.0 2576.0L237.6 2576.6L240.5 2581.3L243.4 2585.4L251.1 2585.4L253.2 2574.5L256.1 2567.2L259.1 2558.3L262.0 2551.0L267.9 2551.0L270.0 2561.3L272.3 2571.6L275.3 2569.5L278.8 2565.7L280.0 2564.2L282.4 2561.3L284.4 2554.8L291.8 2554.8L294.1 2562.8L296.2 2567.8L305.0 2567.8L307.1 2561.3L308.9 2559.8L310.1 2599.6L311.5 2640.8L313.9 2636.4L316.8 2633.5L319.8 2629.6L328.6 2629.6L331.6 2633.5L334.5 2636.4L336.6 2637.9L346.3 2637.9L348.4 2620.8L352.2 2620.2L353.7 2605.5L356.0 2602.5L359.0 2599.6L364.0 2596.1L368.4 2594.3L371.9 2590.7L381.6 2590.2L383.7 2594.3L386.1 2599.0L389.0 2599.0L392.0 2592.2L396.4 2583.4L400.8 2573.1L405.2 2562.8L408.2 2553.9L411.1 2546.6L414.1 2544.2L417.0 2539.2L420.0 2536.8L434.7 2536.8L435.0 2536.8L448.3 2536.8L451.2 2523.6L471.8 2523.0L473.9 2514.7L478.6 2514.1L481.6 2502.4L484.5 2492.9L488.0 2489.1L498.3 2489.1L501.3 2492.9L511.0 2492.9L513.1 2489.1L517.5 2489.1L520.4 2493.5L523.4 2495.0L526.3 2501.8L530.8 2511.2L533.7 2520.0L536.6 2527.4L540.5 2536.2L550.5 2536.8L552.9 2532.4L558.7 2532.4L561.7 2537.7L566.1 2546.6L569.1 2558.3L571.1 2589.3L574.1 2589.3L577.0 2576.0L580.0 2561.3L582.3 2554.8L584.7 2554.8L586.7 2568.6L588.8 2580.4L590.0 2580.4L592.4 2573.1L595.9 2572.5L598.2 2581.9L601.2 2589.3L613.6 2590.2L616.5 2594.3L620.9 2595.2L623.9 2602.5L625.9 2615.8L627.7 2617.3L629.8 2646.7L631.8 2660.0L634.2 2664.4L638.6 2664.4L640.7 2658.5L643.6 2648.2L647.5 2646.7L650.4 2636.4L652.5 2633.5L654.2 2614.3L656.3 2605.5L659.2 2603.4L666.0 2603.1L668.1 2599.0L671.0 2598.1L674.0 2590.7L678.4 2581.9L684.3 2581.9L687.2 2586.3L693.7 2585.7L696.7 2579.0L699.6 2577.5L702.6 2572.5L707.3 2572.5L709.3 2576.6L715.2 2577.5L718.2 2583.4L722.0 2590.2L744.7 2590.2L745.0 2590.2L758.3 2590.2L761.2 2581.3L770.0 2580.7L773.0 2571.6L776.8 2562.8L779.8 2553.9L783.3 2546.0L786.8 2542.1L789.8 2541.2L792.7 2546.6L795.7 2553.0L798.6 2555.4L802.5 2562.8L818.7 2563.3L821.0 2590.2L824.0 2587.8L827.5 2581.3L840.8 2581.3L843.7 2587.2L846.6 2590.7L849.6 2595.2L853.4 2598.1L859.9 2599.0L862.9 2602.5L866.4 2603.4" fill="none" stroke="#6495ed" stroke-width="2.2" stroke-linejoin="round" stroke-linecap="butt"/>
<path d="M162.7 2561.9L164.8 2567.2L167.7 2571.6L169.8 2584.9L171.6 2601.1L173.6 2601.9L175.1 2584.9L176.6 2573.1L180.4 2572.5L182.5 2555.4L185.4 2553.9L187.5 2552.4L189.8 2548.9L198.1 2548.9L200.1 2555.4L202.2 2562.8L205.1 2562.8L206.9 2557.7L209.9 2557.7L211.9 2570.1L213.4 2578.4L215.7 2586.3L219.9 2586.3L221.6 2605.5L223.7 2612.0L231.7 2612.0L234.0 2623.2L237.0 2634.9L240.5 2636.4L242.3 2655.6L244.3 2657.0L251.1 2657.0L253.2 2646.7L256.1 2634.9L259.1 2624.6L261.1 2627.6L263.5 2627.6L265.8 2643.8L267.9 2653.2L270.8 2653.2L272.9 2643.2L276.7 2642.6L278.8 2645.3L280.0 2646.1L282.9 2647.3L286.5 2650.3L298.3 2650.3L300.6 2655.6L304.2 2655.6L308.0 2654.1L310.9 2646.7L313.9 2640.8L316.8 2640.2L319.8 2643.8L322.7 2646.1L349.2 2646.1L350.7 2636.4L358.1 2635.5L360.1 2643.8L362.5 2651.1L365.4 2652.6L368.4 2649.7L371.3 2643.8L374.3 2640.8L377.8 2640.8L380.2 2645.3L383.1 2648.2L386.7 2650.3L389.0 2655.6L391.4 2651.1L393.4 2640.8L396.4 2633.5L400.8 2632.0L403.2 2630.5L409.1 2630.5L410.2 2608.4L412.0 2586.3L415.5 2579.0L419.1 2577.5L422.9 2579.0L425.8 2583.4L430.3 2584.3L433.2 2587.8L435.0 2578.4L438.5 2578.4L440.9 2584.9L443.2 2579.0L446.8 2576.6L451.2 2576.6L453.3 2575.4L463.0 2574.8L465.1 2570.1L468.9 2570.1L470.9 2561.3L473.3 2560.7L475.7 2552.4L479.2 2551.9L480.7 2539.2L483.6 2533.3L486.6 2531.8L500.4 2531.8L502.2 2558.3L504.2 2562.8L507.2 2555.4L511.0 2551.0L514.6 2549.5L518.1 2553.9L520.4 2548.0L528.7 2548.9L529.9 2584.9L531.6 2592.2L534.6 2593.7L537.5 2593.7L540.5 2599.0L545.5 2599.0L547.6 2602.5L551.4 2614.3L554.3 2609.0L558.7 2608.4L561.1 2617.3L564.6 2620.2L567.0 2632.0L569.1 2643.8L570.5 2696.8L572.0 2710.1L574.1 2696.8L576.4 2679.1L578.8 2670.3L580.8 2679.1L582.9 2702.7L585.3 2716.0L587.6 2717.4L588.8 2711.5L590.0 2690.9L592.4 2685.0L594.4 2696.8L596.5 2714.5L599.4 2718.9L601.8 2711.5L603.3 2699.8L605.3 2688.0L607.7 2683.6L610.0 2690.9L613.0 2698.3L619.5 2699.2L621.8 2705.7L624.8 2710.1L631.2 2710.1L634.2 2713.0L643.0 2713.0L645.4 2699.8L647.5 2686.5L650.4 2673.2L653.3 2661.5L656.3 2657.9L660.7 2657.0L663.7 2649.7L667.2 2643.8L670.1 2636.4L673.1 2629.1L681.3 2629.1L684.3 2636.4L691.6 2636.4L693.7 2629.1L696.7 2626.1L703.4 2626.1L706.4 2630.5L708.4 2640.8L711.4 2645.3L715.2 2646.1L718.2 2651.1L721.1 2655.6L724.9 2656.2L727.9 2660.0L732.9 2660.9L735.8 2655.6L737.9 2643.8L740.3 2637.9L744.7 2637.9L745.0 2639.4L755.3 2639.4L757.4 2634.9L759.1 2618.7L763.3 2617.9L766.2 2614.3L770.0 2613.7L773.0 2606.1L779.8 2605.5L780.9 2590.7L783.3 2584.9L786.2 2584.3L789.2 2587.8L792.1 2593.7L795.1 2602.5L797.4 2614.3L799.5 2620.2L802.5 2632.0L810.4 2632.0L812.8 2623.2L818.7 2621.7L822.2 2617.3L826.0 2612.8L829.9 2609.9L831.0 2626.1L833.4 2633.5L836.9 2637.9L845.2 2638.8L851.1 2640.2L854.0 2641.4L857.0 2639.4L861.4 2640.8L864.3 2646.7L866.4 2649.1" fill="none" stroke="#6b7b8b" stroke-width="2.2" stroke-linejoin="round" stroke-linecap="butt"/>
<text transform="translate(122.0 2516.0) scale(1.337 1)" text-anchor="end" font-size="16.0">5500</text>
<text transform="translate(122.0 2560.3) scale(1.337 1)" text-anchor="end" font-size="16.0">5000</text>
<text transform="translate(122.0 2604.6) scale(1.337 1)" text-anchor="end" font-size="16.0">4500</text>
<text transform="translate(122.0 2648.9) scale(1.337 1)" text-anchor="end" font-size="16.0">4000</text>
<text transform="translate(122.0 2693.2) scale(1.337 1)" text-anchor="end" font-size="16.0">3500</text>
<text transform="translate(122.0 2737.5) scale(1.337 1)" text-anchor="end" font-size="16.0">3000</text>
<text transform="translate(163.4 2786.0) scale(1.36 1) rotate(-42)" text-anchor="middle" dominant-baseline="central" font-size="15.9">2021−11−02</text>
<text transform="translate(249.1 2786.0) scale(1.36 1) rotate(-42)" text-anchor="middle" dominant-baseline="central" font-size="15.9">2021−12−30</text>
<text transform="translate(334.7 2786.0) scale(1.36 1) rotate(-42)" text-anchor="middle" dominant-baseline="central" font-size="15.9">2022−03−03</text>
<text transform="translate(420.4 2786.0) scale(1.36 1) rotate(-42)" text-anchor="middle" dominant-baseline="central" font-size="15.9">2022−04−29</text>
<text transform="translate(506.0 2786.0) scale(1.36 1) rotate(-42)" text-anchor="middle" dominant-baseline="central" font-size="15.9">2022−06−30</text>
<text transform="translate(591.6 2786.0) scale(1.36 1) rotate(-42)" text-anchor="middle" dominant-baseline="central" font-size="15.9">2022−08−26</text>
<text transform="translate(677.3 2786.0) scale(1.36 1) rotate(-42)" text-anchor="middle" dominant-baseline="central" font-size="15.9">2022−10−28</text>
<text transform="translate(763.0 2786.0) scale(1.36 1) rotate(-42)" text-anchor="middle" dominant-baseline="central" font-size="15.9">2022−12−27</text>
</svg>
<div class="hl" style="top:2829px;left:4px;width:996px"></div>
<div class="leg" style="top:2830px;font-size:18px"><span style="color:#3f5f92">—— 河南中盈</span> <span style="color:#3f6aa8">—— 湖北三宁</span> <span style="color:#5b8fe0">—— 安徽昊源</span> <span style="color:#6b7785">—— 阳煤平原</span></div>
<div class="bar" style="top:2855px;height:29px">尿素日产<small>(单位:元/吨)</small></div>
<div class="hl" style="top:2854px;left:4px;width:996px"></div>
<svg style="left:4px;top:2885px" width="996" height="400" viewBox="4 2885 996 400">
<rect x="128" y="2933" width="772" height="272" fill="#eaeaf2"/>
<path d="M162.4 3186.4L182.6 3186.4L184.5 3188.9L196.6 3188.9L199.2 3192.6L209.5 3192.6L212.1 3179.4L223.1 3179.4L225.0 3124.8L237.1 3124.8L239.0 3018.8L250.8 3018.8L252.6 2974.6L264.4 2973.8L266.6 2970.1L280.2 2970.1L282.1 2971.6L293.1 2971.6L295.0 2945.8L307.1 2945.8L309.0 2960.9L315.2 2960.9L321.6 2960.9L323.1 2948.8L334.2 2948.8L336.4 2992.2L348.1 2992.2L350.0 2988.6L361.8 2988.6L363.6 3017.3L375.8 3017.3L377.6 3016.2L389.8 3016.2L391.6 2985.6L400.8 2985.6L402.7 2974.6L413.7 2974.6L415.6 2977.1L427.3 2977.1L429.9 2965.4L442.1 2965.4L443.9 2966.5L456.8 2966.5L458.6 2967.2L468.6 2967.2L470.4 2979.7L482.6 2979.7L484.4 2960.6L495.5 2960.6L498.1 2956.9L509.1 2956.9L510.0 2956.9L511.8 2981.9L522.9 2981.9L524.7 2983.8L536.5 2983.8L538.7 2979.4L550.5 2979.4L552.4 2980.5L564.1 2980.5L566.0 3022.4L577.4 3022.4L579.2 3061.9L591.0 3061.9L592.9 3028.0L605.0 3028.0L606.9 2999.2L617.9 2999.2L619.8 2971.6L631.5 2971.6L634.1 2983.8L645.5 2983.8L647.4 3022.4L659.2 3022.4L661.0 3074.0L672.8 3074.0L674.6 3118.9L686.1 3118.9L688.6 3047.1L696.0 3047.1L698.6 3031.3L704.5 3031.3L705.0 3031.3L709.4 3031.3L711.6 3018.0L723.4 3018.0L725.3 3020.6L737.4 3020.6L739.3 3089.5L751.0 3089.5L752.9 3140.3L763.9 3140.3L765.8 3115.6L777.9 3115.6L779.8 3091.0L791.6 3091.0L793.4 3026.9L805.2 3026.9L807.4 3021.7L818.4 3021.7L820.3 3066.6L832.1 3066.6L833.9 3050.8L845.7 3050.8L847.9 3078.4L859.0 3078.4L861.5 3084.3L866.3 3084.3" fill="none" stroke="#6b7b8b" stroke-width="2.2" stroke-linejoin="round" stroke-linecap="butt"/>
<path d="M162.4 3065.5L180.0 3065.5L182.6 3046.4L194.8 3046.4L196.6 3023.6L207.7 3023.6L209.5 2983.0L221.3 2983.0L223.9 2962.8L236.0 2962.0L237.9 2959.8L248.9 2959.8L251.5 2975.7L261.8 2976.4L264.4 2996.7L278.4 2996.7L280.2 3008.8L292.0 3008.8L293.8 2959.1L317.1 2958.4" fill="none" stroke="#6495ed" stroke-width="2.2" stroke-linejoin="round" stroke-linecap="butt"/>
<path d="M317.1 2958.4L866.3 2958.4" fill="none" stroke="#6495ed" stroke-width="1.4" stroke-linejoin="round" stroke-linecap="butt"/>
<text transform="translate(122.0 2967.6) scale(1.337 1)" text-anchor="end" font-size="17.8">160000</text>
<text transform="translate(122.0 3020.0) scale(1.337 1)" text-anchor="end" font-size="17.8">150000</text>
<text transform="translate(122.0 3072.3) scale(1.337 1)" text-anchor="end" font-size="17.8">140000</text>
<text transform="translate(122.0 3124.7) scale(1.337 1)" text-anchor="end" font-size="17.8">130000</text>
<text transform="translate(122.0 3177.1) scale(1.337 1)" text-anchor="end" font-size="17.8">120000</text>
<text transform="translate(181.5 3229.5) scale(1.39 1) rotate(-42)" text-anchor="middle" dominant-baseline="central" font-size="17.0">01−28</text>
<text transform="translate(267.2 3229.5) scale(1.39 1) rotate(-42)" text-anchor="middle" dominant-baseline="central" font-size="17.0">03−12</text>
<text transform="translate(352.9 3229.5) scale(1.39 1) rotate(-42)" text-anchor="middle" dominant-baseline="central" font-size="17.0">04−25</text>
<text transform="translate(438.6 3229.5) scale(1.39 1) rotate(-42)" text-anchor="middle" dominant-baseline="central" font-size="17.0">06−09</text>
<text transform="translate(524.3 3229.5) scale(1.39 1) rotate(-42)" text-anchor="middle" dominant-baseline="central" font-size="17.0">07−24</text>
<text transform="translate(610.0 3229.5) scale(1.39 1) rotate(-42)" text-anchor="middle" dominant-baseline="central" font-size="17.0">09−06</text>
<text transform="translate(695.7 3229.5) scale(1.39 1) rotate(-42)" text-anchor="middle" dominant-baseline="central" font-size="17.0">10−22</text>
<text transform="translate(781.4 3229.5) scale(1.39 1) rotate(-42)" text-anchor="middle" dominant-baseline="central" font-size="17.0">12−05</text>
</svg>
<div class="hl" style="top:3285px;left:4px;width:996px"></div>
<div class="leg" style="top:3286px;font-size:19px"><span style="color:#3f5f92">—— 2023</span> <span style="color:#4a76b4">—— 2022</span> <span style="color:#6b93e0">—— 2021</span></div>
<div class="bar" style="top:3311px;height:29px">合约前五净持仓</div>
<div class="hl" style="top:3310px;left:4px;width:996px"></div>
<svg style="left:4px;top:3341px" width="996" height="400" viewBox="4 3341 996 400">
<rect x="128" y="3389" width="772" height="272" fill="#eaeaf2"/>
<text transform="translate(119.7 3430.7) scale(2.0 1)" text-anchor="end" font-size="10.6" style="font-family:'Noto Sans Mono CJK SC','Liberation Mono',monospace">0.04</text>
<text transform="translate(908.2 3430.7) scale(2.0 1)" text-anchor="start" font-size="10.6" style="font-family:'Noto Sans Mono CJK SC','Liberation Mono',monospace">0.04</text>
<text transform="translate(119.7 3479.8) scale(2.0 1)" text-anchor="end" font-size="10.6" style="font-family:'Noto Sans Mono CJK SC','Liberation Mono',monospace">0.02</text>
<text transform="translate(908.2 3479.8) scale(2.0 1)" text-anchor="start" font-size="10.6" style="font-family:'Noto Sans Mono CJK SC','Liberation Mono',monospace">0.02</text>
<text transform="translate(119.7 3528.9) scale(2.0 1)" text-anchor="end" font-size="10.6" style="font-family:'Noto Sans Mono CJK SC','Liberation Mono',monospace">0.00</text>
<text transform="translate(908.2 3528.9) scale(2.0 1)" text-anchor="start" font-size="10.6" style="font-family:'Noto Sans Mono CJK SC','Liberation Mono',monospace">0.00</text>
<text transform="translate(119.7 3578.0) scale(2.0 1)" text-anchor="end" font-size="10.6" style="font-family:'Noto Sans Mono CJK SC','Liberation Mono',monospace">−0.02</text>
<text transform="translate(908.2 3578.0) scale(2.0 1)" text-anchor="start" font-size="10.6" style="font-family:'Noto Sans Mono CJK SC','Liberation Mono',monospace">−0.02</text>
<text transform="translate(119.7 3627.1) scale(2.0 1)" text-anchor="end" font-size="10.6" style="font-family:'Noto Sans Mono CJK SC','Liberation Mono',monospace">−0.04</text>
<text transform="translate(908.2 3627.1) scale(2.0 1)" text-anchor="start" font-size="10.6" style="font-family:'Noto Sans Mono CJK SC','Liberation Mono',monospace">−0.04</text>
<text transform="translate(120.5 3667.5) scale(1.9 1) rotate(-45)" text-anchor="end" dominant-baseline="central" font-size="11.4" style="font-family:'Noto Sans Mono CJK SC','Liberation Mono',monospace">−0.0550</text>
<text transform="translate(206.3 3667.5) scale(1.9 1) rotate(-45)" text-anchor="end" dominant-baseline="central" font-size="11.4" style="font-family:'Noto Sans Mono CJK SC','Liberation Mono',monospace">−0.0428</text>
<text transform="translate(292.1 3667.5) scale(1.9 1) rotate(-45)" text-anchor="end" dominant-baseline="central" font-size="11.4" style="font-family:'Noto Sans Mono CJK SC','Liberation Mono',monospace">−0.0306</text>
<text transform="translate(377.8 3667.5) scale(1.9 1) rotate(-45)" text-anchor="end" dominant-baseline="central" font-size="11.4" style="font-family:'Noto Sans Mono CJK SC','Liberation Mono',monospace">−0.0183</text>
<text transform="translate(463.6 3667.5) scale(1.9 1) rotate(-45)" text-anchor="end" dominant-baseline="central" font-size="11.4" style="font-family:'Noto Sans Mono CJK SC','Liberation Mono',monospace">−0.0061</text>
<text transform="translate(549.4 3667.5) scale(1.9 1) rotate(-45)" text-anchor="end" dominant-baseline="central" font-size="11.4" style="font-family:'Noto Sans Mono CJK SC','Liberation Mono',monospace">0.0061</text>
<text transform="translate(635.2 3667.5) scale(1.9 1) rotate(-45)" text-anchor="end" dominant-baseline="central" font-size="11.4" style="font-family:'Noto Sans Mono CJK SC','Liberation Mono',monospace">0.0183</text>
<text transform="translate(721.0 3667.5) scale(1.9 1) rotate(-45)" text-anchor="end" dominant-baseline="central" font-size="11.4" style="font-family:'Noto Sans Mono CJK SC','Liberation Mono',monospace">0.0306</text>
<text transform="translate(806.7 3667.5) scale(1.9 1) rotate(-45)" text-anchor="end" dominant-baseline="central" font-size="11.4" style="font-family:'Noto Sans Mono CJK SC','Liberation Mono',monospace">0.0428</text>
<text transform="translate(892.5 3667.5) scale(1.9 1) rotate(-45)" text-anchor="end" dominant-baseline="central" font-size="11.4" style="font-family:'Noto Sans Mono CJK SC','Liberation Mono',monospace">0.0550</text>
</svg>
<div class="hl" style="top:3741px;left:4px;width:996px"></div>
<div class="leg" style="top:3742px;font-size:18px"><span style="color:#4a7ab5">—— 净持仓（右）</span> <span style="color:#3f5f8f">—— 结算价</span></div>
<div class="bar" style="top:3767px;height:29px">合约前二十净持仓</div>
<div class="hl" style="top:3766px;left:4px;width:996px"></div>
<svg style="left:4px;top:3797px" width="996" height="400" viewBox="4 3797 996 400">
<rect x="128" y="3845" width="772" height="272" fill="#eaeaf2"/>
<text transform="translate(119.7 3886.7) scale(2.0 1)" text-anchor="end" font-size="10.6" style="font-family:'Noto Sans Mono CJK SC','Liberation Mono',monospace">0.04</text>
<text transform="translate(908.2 3886.7) scale(2.0 1)" text-anchor="start" font-size="10.6" style="font-family:'Noto Sans Mono CJK SC','Liberation Mono',monospace">0.04</text>
<text transform="translate(119.7 3935.8) scale(2.0 1)" text-anchor="end" font-size="10.6" style="font-family:'Noto Sans Mono CJK SC','Liberation Mono',monospace">0.02</text>
<text transform="translate(908.2 3935.8) scale(2.0 1)" text-anchor="start" font-size="10.6" style="font-family:'Noto Sans Mono CJK SC','Liberation Mono',monospace">0.02</text>
<text transform="translate(119.7 3984.9) scale(2.0 1)" text-anchor="end" font-size="10.6" style="font-family:'Noto Sans Mono CJK SC','Liberation Mono',monospace">0.00</text>
<text transform="translate(908.2 3984.9) scale(2.0 1)" text-anchor="start" font-size="10.6" style="font-family:'Noto Sans Mono CJK SC','Liberation Mono',monospace">0.00</text>
<text transform="translate(119.7 4034.0) scale(2.0 1)" text-anchor="end" font-size="10.6" style="font-family:'Noto Sans Mono CJK SC','Liberation Mono',monospace">−0.02</text>
<text transform="translate(908.2 4034.0) scale(2.0 1)" text-anchor="start" font-size="10.6" style="font-family:'Noto Sans Mono CJK SC','Liberation Mono',monospace">−0.02</text>
<text transform="translate(119.7 4083.1) scale(2.0 1)" text-anchor="end" font-size="10.6" style="font-family:'Noto Sans Mono CJK SC','Liberation Mono',monospace">−0.04</text>
<text transform="translate(908.2 4083.1) scale(2.0 1)" text-anchor="start" font-size="10.6" style="font-family:'Noto Sans Mono CJK SC','Liberation Mono',monospace">−0.04</text>
<text transform="translate(120.5 4123.5) scale(1.9 1) rotate(-45)" text-anchor="end" dominant-baseline="central" font-size="11.4" style="font-family:'Noto Sans Mono CJK SC','Liberation Mono',monospace">−0.0550</text>
<text transform="translate(206.3 4123.5) scale(1.9 1) rotate(-45)" text-anchor="end" dominant-baseline="central" font-size="11.4" style="font-family:'Noto Sans Mono CJK SC','Liberation Mono',monospace">−0.0428</text>
<text transform="translate(292.1 4123.5) scale(1.9 1) rotate(-45)" text-anchor="end" dominant-baseline="central" font-size="11.4" style="font-family:'Noto Sans Mono CJK SC','Liberation Mono',monospace">−0.0306</text>
<text transform="translate(377.8 4123.5) scale(1.9 1) rotate(-45)" text-anchor="end" dominant-baseline="central" font-size="11.4" style="font-family:'Noto Sans Mono CJK SC','Liberation Mono',monospace">−0.0183</text>
<text transform="translate(463.6 4123.5) scale(1.9 1) rotate(-45)" text-anchor="end" dominant-baseline="central" font-size="11.4" style="font-family:'Noto Sans Mono CJK SC','Liberation Mono',monospace">−0.0061</text>
<text transform="translate(549.4 4123.5) scale(1.9 1) rotate(-45)" text-anchor="end" dominant-baseline="central" font-size="11.4" style="font-family:'Noto Sans Mono CJK SC','Liberation Mono',monospace">0.0061</text>
<text transform="translate(635.2 4123.5) scale(1.9 1) rotate(-45)" text-anchor="end" dominant-baseline="central" font-size="11.4" style="font-family:'Noto Sans Mono CJK SC','Liberation Mono',monospace">0.0183</text>
<text transform="translate(721.0 4123.5) scale(1.9 1) rotate(-45)" text-anchor="end" dominant-baseline="central" font-size="11.4" style="font-family:'Noto Sans Mono CJK SC','Liberation Mono',monospace">0.0306</text>
<text transform="translate(806.7 4123.5) scale(1.9 1) rotate(-45)" text-anchor="end" dominant-baseline="central" font-size="11.4" style="font-family:'Noto Sans Mono CJK SC','Liberation Mono',monospace">0.0428</text>
<text transform="translate(892.5 4123.5) scale(1.9 1) rotate(-45)" text-anchor="end" dominant-baseline="central" font-size="11.4" style="font-family:'Noto Sans Mono CJK SC','Liberation Mono',monospace">0.0550</text>
</svg>
<div class="hl" style="top:4197px;left:4px;width:996px"></div>
<div class="leg" style="top:4198px;font-size:18px"><span style="color:#4a7ab5">—— 净持仓（右）</span> <span style="color:#3f5f8f">—— 结算价</span></div>
<div class="bar" style="top:4223px;height:29px">市场追踪</div>
<div class="hl" style="top:4222px;left:4px;width:996px"></div>
<div class="bar" style="top:4252px"></div>
<div class="hd" style="top:4252px;left:-26px;width:200px">一级指标</div>
<div class="hd" style="top:4252px;left:258px;width:200px">二级指标</div>
<div class="hd" style="top:4252px;left:544px;width:200px">今日价格</div>
<div class="hd" style="top:4252px;left:688px;width:200px">昨日价格</div>
<div class="hd" style="top:4252px;left:828px;width:200px">涨跌</div>
<div class="l1" style="top:4282px;height:135px;line-height:140px">市场价格</div>
<div class="c" style="top:4282px;left:289px;width:284px">山东地区</div>
<div class="c" style="top:4282px;left:574px;width:141px">2780.0</div>
<div class="c" style="top:4282px;left:716px;width:142px">2780.0</div>
<div class="c" style="top:4282px;left:859px;width:141px">0.00</div>
<div class="hl" style="top:4309px;left:289px;width:711px"></div>
<div class="c" style="top:4309px;left:289px;width:284px">河南地区</div>
<div class="c" style="top:4309px;left:574px;width:141px">2770.0</div>
<div class="c" style="top:4309px;left:716px;width:142px">2780.0</div>
<div class="c" style="top:4309px;left:859px;width:141px">-10.00</div>
<div class="hl" style="top:4336px;left:289px;width:711px"></div>
<div class="c" style="top:4336px;left:289px;width:284px">安徽地区</div>
<div class="c" style="top:4336px;left:574px;width:141px">2840.0</div>
<div class="c" style="top:4336px;left:716px;width:142px">2840.0</div>
<div class="c" style="top:4336px;left:859px;width:141px">0.00</div>
<div class="hl" style="top:4363px;left:289px;width:711px"></div>
<div class="c" style="top:4363px;left:289px;width:284px">山西地区</div>
<div class="c" style="top:4363px;left:574px;width:141px">2650.0</div>
<div class="c" style="top:4363px;left:716px;width:142px">2630.0</div>
<div class="c" style="top:4363px;left:859px;width:141px">20.00</div>
<div class="hl" style="top:4390px;left:289px;width:711px"></div>
<div class="c" style="top:4390px;left:289px;width:284px">东北地区</div>
<div class="c" style="top:4390px;left:574px;width:141px">2810.0</div>
<div class="c" style="top:4390px;left:716px;width:142px">2810.0</div>
<div class="c" style="top:4390px;left:859px;width:141px">0.00</div>
<div class="hl" style="top:4417px;left:4px;width:996px"></div>
<div class="l1" style="top:4417px;height:135px;line-height:140px">基差</div>
<div class="c" style="top:4417px;left:289px;width:284px">UR主力合约-山东</div>
<div class="c" style="top:4417px;left:574px;width:141px">-274.0</div>
<div class="c" style="top:4417px;left:716px;width:142px">-286.0</div>
<div class="c" style="top:4417px;left:859px;width:141px">12.00</div>
<div class="hl" style="top:4444px;left:289px;width:711px"></div>
<div class="c" style="top:4444px;left:289px;width:284px">UR主力合约-河南</div>
<div class="c" style="top:4444px;left:574px;width:141px">-264.0</div>
<div class="c" style="top:4444px;left:716px;width:142px">-286.0</div>
<div class="c" style="top:4444px;left:859px;width:141px">22.00</div>
<div class="hl" style="top:4471px;left:289px;width:711px"></div>
<div class="c" style="top:4471px;left:289px;width:284px">UR主力合约-安徽</div>
<div class="c" style="top:4471px;left:574px;width:141px">-334.0</div>
<div class="c" style="top:4471px;left:716px;width:142px">-346.0</div>
<div class="c" style="top:4471px;left:859px;width:141px">12.00</div>
<div class="hl" style="top:4498px;left:289px;width:711px"></div>
<div class="c" style="top:4498px;left:289px;width:284px">UR主力合约-山西</div>
<div class="c" style="top:4498px;left:574px;width:141px">-144.0</div>
<div class="c" style="top:4498px;left:716px;width:142px">-136.0</div>
<div class="c" style="top:4498px;left:859px;width:141px">-8.00</div>
<div class="hl" style="top:4525px;left:289px;width:711px"></div>
<div class="c" style="top:4525px;left:289px;width:284px">UR主力合约-东北</div>
<div class="c" style="top:4525px;left:574px;width:141px">-304.0</div>
<div class="c" style="top:4525px;left:716px;width:142px">-316.0</div>
<div class="c" style="top:4525px;left:859px;width:141px">12.00</div>
<div class="hl" style="top:4552px;left:4px;width:996px"></div>
<div class="vl" style="left:288px;top:4282px;height:270px"></div>
<div class="vl" style="left:573px;top:4282px;height:270px"></div>
<div class="vl" style="left:715px;top:4282px;height:270px"></div>
<div class="vl" style="left:858px;top:4282px;height:270px"></div>
<div class="bar" style="top:4553px;height:29px"></div>
<div class="hl" style="top:4552px;left:4px;width:996px"></div>
<div class="hl" style="top:4685px;left:4px;width:996px"></div>
<div class="vl" style="left:145px;top:4582px;height:184px"></div>
<div class="abs" style="left:4px;width:141px;top:4588px;height:22px;line-height:22px;text-align:center;font-weight:bold;font-size:22px;color:#4a6d9e">免</div>
<div class="abs" style="left:4px;width:141px;top:4610px;height:22px;line-height:22px;text-align:center;font-weight:bold;font-size:22px;color:#4a6d9e">责</div>
<div class="abs" style="left:4px;width:141px;top:4632px;height:22px;line-height:22px;text-align:center;font-weight:bold;font-size:22px;color:#4a6d9e">声</div>
<div class="abs" style="left:4px;width:141px;top:4654px;height:22px;line-height:22px;text-align:center;font-weight:bold;font-size:22px;color:#4a6d9e">明</div>
<div class="abs" style="left:4px;width:141px;top:4695.5px;height:22px;line-height:22px;text-align:center;font-weight:bold;font-size:22px;color:#4a6d9e">分</div>
<div class="abs" style="left:4px;width:141px;top:4717.5px;height:22px;line-height:22px;text-align:center;font-weight:bold;font-size:22px;color:#4a6d9e">析</div>
<div class="abs" style="left:4px;width:141px;top:4739.5px;height:22px;line-height:22px;text-align:center;font-weight:bold;font-size:22px;color:#4a6d9e">师</div>
<div class="abs" style="left:186px;top:4586px;height:24px;line-height:24px;font-size:20px;font-weight:350;white-space:nowrap">本报告中的信息均来源于公开资料，我公司对这些信息的准确性和完整性不作任何保证。报</div>
<div class="abs" style="left:146px;top:4610px;height:24px;line-height:24px;font-size:20px;font-weight:350;white-space:nowrap">告中的内容和意见仅供参考，并不构成对所述品种买卖的出价或征价。我公司及其雇员对使用本</div>
<div class="abs" style="left:146px;top:4634px;height:24px;line-height:24px;font-size:20px;font-weight:350;white-space:nowrap">报告及其内容所引发的任何直接或间接损失概不负责。本报告仅向特定客户传送，版权归冠通期</div>
<div class="abs" style="left:146px;top:4658px;height:24px;line-height:24px;font-size:20px;font-weight:350;white-space:nowrap">货所有。未经我公司书面许可，任何机构和个人均不得以任何形式翻版、复制、引用或转载。</div>
<div class="abs" style="left:187px;top:4717.5px;height:24px;line-height:24px;font-size:20px;font-weight:350;white-space:pre">王 静</div>
<div class="abs" style="left:305.5px;top:4717.5px;height:24px;line-height:24px;font-size:20px;font-weight:350;white-space:pre">执业资格证号<span style="letter-spacing:0.4px">F0235424/Z0000771</span></div>
</body></html>
